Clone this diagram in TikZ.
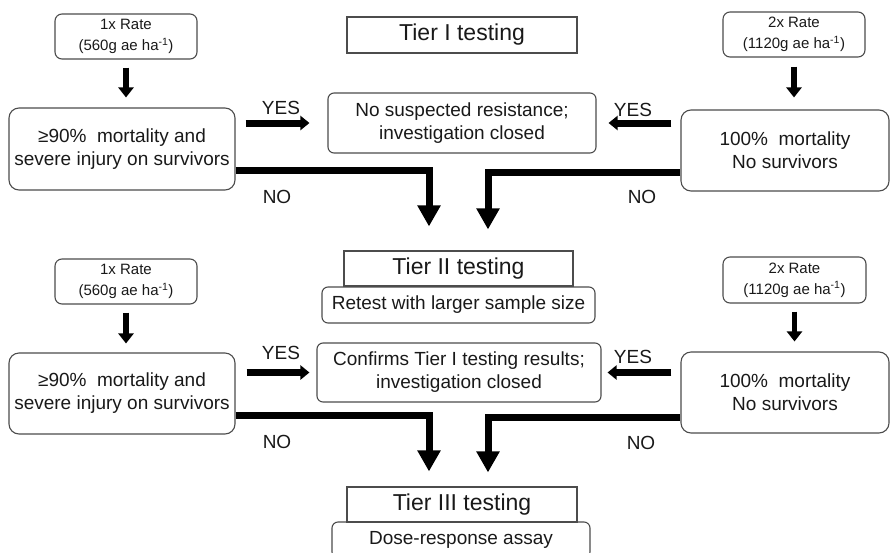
\documentclass[tikz,border=0pt]{standalone}
\usepackage{fontspec}
\setmainfont{Liberation Sans}
\usetikzlibrary{arrows.meta}
\begin{document}
\begin{tikzpicture}[x=1pt,y=-1pt,
 box/.style={draw=black!70, line width=1.1pt, inner sep=0pt, align=center, text=black!90},
 ratebox/.style={box, rounded corners=7pt, font=\fontsize{15}{21}\selectfont},
 decbox/.style={box, rounded corners=10pt, font=\fontsize{19}{23}\selectfont},
 tierbox/.style={box, font=\fontsize{23}{27}\selectfont},
 resbox/.style={box, rounded corners=6pt, font=\fontsize{19}{23}\selectfont},
 lbl/.style={font=\fontsize{19}{23}\selectfont, inner sep=0pt, text=black!90},
 ratearrow/.style={line width=5.5pt, -{Triangle[width=15pt,length=10pt]}},
 yesarrow/.style={line width=7pt, -{Triangle[width=14pt,length=9pt]}},
 noarrow/.style={line width=7pt, line join=miter, -{Triangle[width=22pt,length=21pt]}},
]
\useasboundingbox (0,0) rectangle (891,552);
\clip (0,0) rectangle (891,552);

% ---------- Tier I ----------
\node[tierbox, minimum width=230pt, minimum height=36pt] (t1) at (462,35) {Tier I testing};
\node[ratebox, minimum width=142pt, minimum height=45pt] (r1a) at (126,36.5) {1x Rate\\(560g ae ha\textsuperscript{-1})};
\node[ratebox, minimum width=142pt, minimum height=45pt] (r2a) at (794,34.5) {2x Rate\\(1120g ae ha\textsuperscript{-1})};
\node[decbox, minimum width=226pt, minimum height=82pt] (d1a) at (122,149) {≥90\%\ \ mortality and\\severe injury on survivors};
\node[decbox, minimum width=208pt, minimum height=81pt] (d2a) at (785,150.5) {100\%\ \ mortality\\No survivors};
\node[resbox, minimum width=268pt, minimum height=60pt] (c1) at (462,123) {No suspected resistance;\\investigation closed};

\draw[ratearrow, shorten <=8pt, shorten >=10pt] (r1a.south) -- (d1a.north -| r1a.south);
\draw[ratearrow, shorten <=9pt, shorten >=12pt] (r2a.south) -- (d2a.north -| r2a.south);
\draw[yesarrow, shorten <=10pt, shorten >=18pt] (d1a.east |- c1.center) -- (c1.west);
\draw[yesarrow, shorten <=9pt, shorten >=12pt] (d2a.west |- c1.center) -- (c1.east);

\node[lbl] (yes1a) at (281,108) {YES};
\node[lbl] (yes2a) at (633,110) {YES};
\node[lbl] (no1a) at (277,197) {NO};
\node[lbl] (no2a) at (642,197) {NO};

% ---------- Tier II ----------
\node[tierbox, minimum width=229pt, minimum height=35pt] (t2) at (458.5,268.5) {Tier II testing};
\node[resbox, minimum width=273pt, minimum height=36pt] (s2) at (458.5,305) {Retest with larger sample size};

\draw[noarrow] ([yshift=-21pt]d1a.east) -| ([xshift=-29.5pt,yshift=24pt]t2.north);
\draw[noarrow] ([yshift=-21.5pt]d2a.west) -| ([xshift=29.5pt,yshift=21pt]t2.north);

\node[ratebox, minimum width=142pt, minimum height=45pt] (r1b) at (126,281.5) {1x Rate\\(560g ae ha\textsuperscript{-1})};
\node[ratebox, minimum width=143pt, minimum height=46pt] (r2b) at (794.5,280) {2x Rate\\(1120g ae ha\textsuperscript{-1})};
\node[decbox, minimum width=226pt, minimum height=81pt] (d1b) at (122,393.5) {≥90\%\ \ mortality and\\severe injury on survivors};
\node[decbox, minimum width=208pt, minimum height=81pt] (d2b) at (785,392.5) {100\%\ \ mortality\\No survivors};
\node[resbox, minimum width=284pt, minimum height=59pt] (c2) at (459,372.5) {Confirms Tier I testing results;\\investigation closed};

\draw[ratearrow, shorten <=8pt, shorten >=9pt] (r1b.south) -- (d1b.north -| r1b.south);
\draw[ratearrow, shorten <=8pt, shorten >=10pt] (r2b.south) -- (d2b.north -| r2b.south);
\draw[yesarrow, shorten <=11pt, shorten >=7pt] (d1b.east |- c2.center) -- (c2.west);
\draw[yesarrow, shorten <=9pt, shorten >=6pt] (d2b.west |- c2.center) -- (c2.east);

\node[lbl] (yes1b) at (281,353) {YES};
\node[lbl] (yes2b) at (633,357) {YES};
\node[lbl] (no1b) at (277,442) {NO};
\node[lbl] (no2b) at (641,443) {NO};

% ---------- Tier III ----------
\node[tierbox, minimum width=230pt, minimum height=35pt] (t3) at (462,504.5) {Tier III testing};
\node[resbox, minimum width=258pt, minimum height=36pt] (s3) at (461,540) {Dose-response assay};

\draw[noarrow] ([yshift=-21.5pt]d1b.east) -| ([xshift=-33pt,yshift=15pt]t3.north);
\draw[noarrow] ([yshift=-24.5pt]d2b.west) -| ([xshift=26pt,yshift=14pt]t3.north);
\end{tikzpicture}
\end{document}
